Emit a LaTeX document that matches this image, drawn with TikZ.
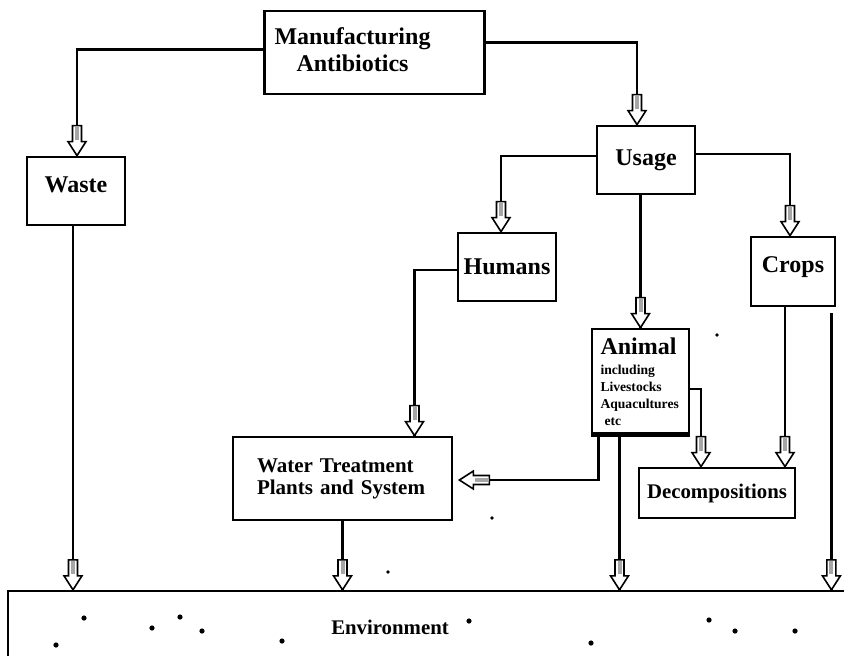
\documentclass[tikz,border=0pt]{standalone}
\usepackage{fontspec}
\setmainfont{Liberation Serif}
\usetikzlibrary{calc}

\begin{document}
\begin{tikzpicture}
		[x=0.5pt,y=-0.5pt,
		box/.style={draw,rectangle,line width=1.4pt,inner sep=2pt,align=center,font=\fontsize{12}{13.5}\selectfont\bfseries},
		flow/.style={line width=1.2pt},
		hollow/.pic={
			\filldraw[fill=white,line width=0.8pt] (0,0) -- (-9,-14) -- (-4.5,-14) -- (-4.5,-30) -- (4.5,-30) -- (4.5,-14) -- (9,-14) -- cycle;
			\fill[gray!70] (-2,-15.5) rectangle (2,-29);
		}]

			\useasboundingbox (0,0) rectangle (844,655);

			\node[box, minimum width=109.5pt, minimum height=41.5pt, text width=100pt, inner xsep=5pt, align=left](manu) at (374.5,52.5) {\begin{tabular}{@{}c@{}}Manufacturing\\Antibiotics\end{tabular}};
			\node[box, minimum width=49pt, minimum height=34pt, text depth=6pt](waste) at (76,191) {Waste};
			\node[box, minimum width=49pt, minimum height=34pt](usage) at (646,160) {Usage};
			\node[box, minimum width=49pt, minimum height=34pt](humans) at (507,267) {Humans};
			\node[box, minimum width=42pt, minimum height=34.5pt, text depth=6.5pt](crops) at (793,271.5) {Crops};
			\node[box, minimum width=48.5pt, minimum height=52.5pt, text width=40pt, inner xsep=4pt, align=left, font=\fontsize{6.8}{8.5}\selectfont\bfseries](animal) at (640.5,381.5)
				{{\fontsize{12}{14}\selectfont Animal}\\[1.5pt]including\\Livestocks\\Aquacultures\\\mbox{\hspace{2pt}etc}};
			\node[box, minimum width=109.5pt, minimum height=41.5pt, text width=85.5pt, inner xsep=12pt, align=left, font=\fontsize{10.5}{11}\selectfont\bfseries](water) at (342.5,478.5) {Water Treatment\\Plants and System};
			\node[box, minimum width=78pt, minimum height=25pt, font=\fontsize{10.4}{12}\selectfont\bfseries](decomp) at (717,493) {Decompositions};
			\node[box, line width=1.2pt, minimum width=426pt, minimum height=34.5pt,
				label={[font=\fontsize{10.4}{12}\selectfont\bfseries, xshift=-22pt, yshift=-1pt]center:Environment}](env) at (434,625.5) {};
			\draw[line width=2.6pt] ($(animal.south west)+(0,-1)$) -- ($(animal.south east)+(0,-1)$);

			\coordinate (w1) at ($(waste.south)+(-3,0)$);
			\coordinate (a1) at ($(animal.south)+(-21,0)$);
			\coordinate (c1) at ($(crops.south)+(-8,0)$);
			\coordinate (c2) at ($(crops.south east)+(-5,6)$);

			\draw[flow] ($(manu.west)+(0,-3)$) -| ($(waste.north)+(1,0)$) pic{hollow};
			\draw[flow] ($(manu.east)+(0,-10)$) -| ($(usage.north)+(-9,0)$) pic{hollow};
			\draw[flow] ($(usage.west)+(0,-4)$) -| ($(humans.north)+(-6,0)$) pic{hollow};
			\draw[flow] ($(usage.east)+(0,-6)$) -| ($(crops.north)+(-3,0)$) pic{hollow};
			\draw[flow] (usage.south -| animal.north) -- (animal.north) pic{hollow};
			\draw[flow] ($(humans.west)+(0,3)$) -| ($(water.north)+(72,0)$) pic{hollow};
			\draw[flow] ($(animal.south)+(-42,0)$) |- ($(water.east)+(6,1.5)$) pic[rotate=-90]{hollow};
			\draw[flow] ($(animal.east)+(0,7.5)$) -| ($(decomp.north)+(-16,0)$) pic{hollow};
			\draw[flow] (c1) -- (c1 |- decomp.north) pic{hollow};
			\draw[flow] (w1) -- (w1 |- env.north) pic{hollow};
			\draw[flow] (water.south) -- (water.south |- env.north) pic{hollow};
			\draw[flow] (a1) -- (a1 |- env.north) pic{hollow};
			\draw[flow] (c2) -- (c2 |- env.north) pic{hollow};

			\foreach \p in {(717,335),(492,518),(388,572)}
				\fill \p circle (1.8);
			\foreach \p in {(84,618),(56,645),(152,628),(180,617),(202,631),(282,641),(469,621),(591,643),(709,620),(735,631),(795,631)}
				\fill \p circle (2.6);

	\end{tikzpicture}
\end{document}
